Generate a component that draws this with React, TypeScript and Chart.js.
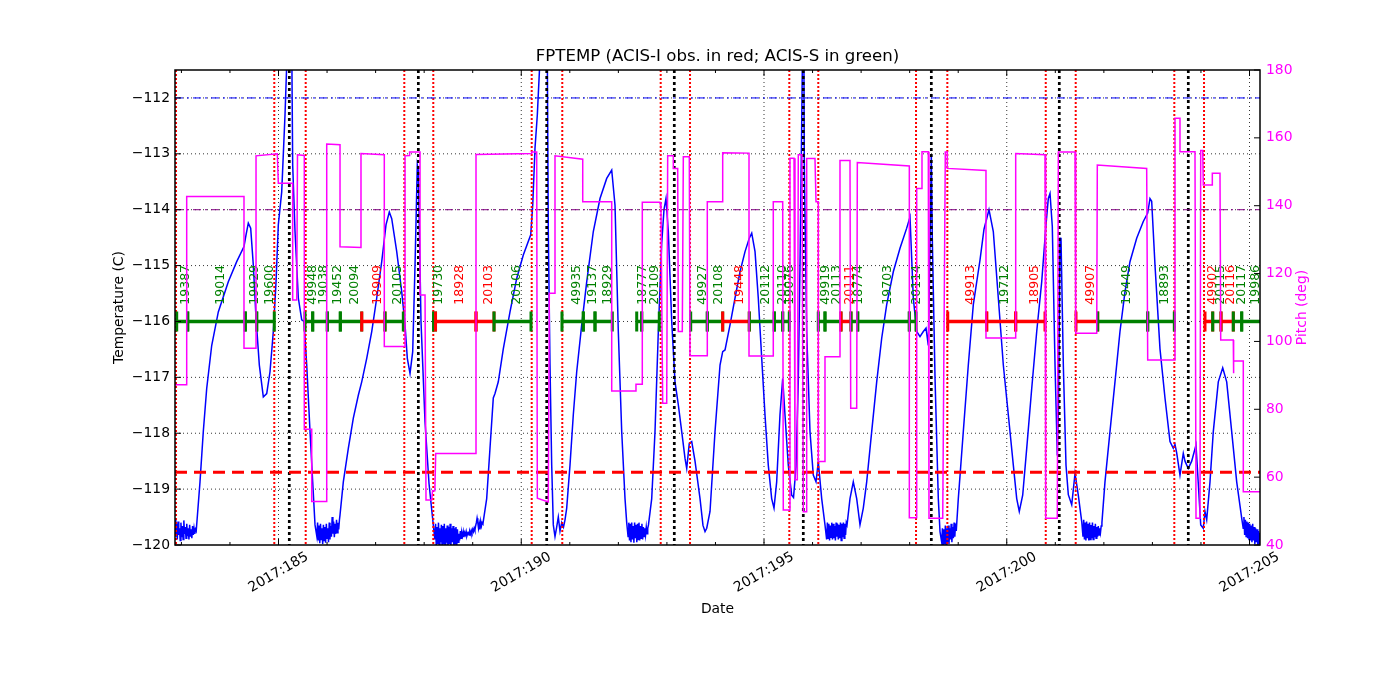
import React, { useEffect, useRef } from "react";
import { Chart, registerables } from "chart.js";

Chart.register(...registerables);

// ---------------- text ----------------
const TITLE = "FPTEMP (ACIS-I obs. in red; ACIS-S in green)";
const X_LABEL = "Date";
const Y_LABEL = "Temperature (C)";
const Y2_LABEL = "Pitch (deg)";
const YEAR = 2017;

// ---------------- axes ----------------
const DAY_MIN = 182.868;
const DAY_MAX = 205.216;
const DATE_MAJOR_TICKS = [185, 190, 195, 200, 205];
const DATE_MINOR_TICKS = [183, 184, 185, 186, 187, 188, 189, 190, 191, 192, 193, 194, 195, 196, 197, 198, 199, 200, 201, 202, 203, 204, 205];
const TEMP_MIN = -120;
const TEMP_MAX = -111.5;
const TEMP_TICKS = [-120, -119, -118, -117, -116, -115, -114, -113, -112];
const PITCH_MIN = 40;
const PITCH_MAX = 180;
const PITCH_TICKS = [40, 60, 80, 100, 120, 140, 160, 180];

// ---------------- reference levels ----------------
const PLANNING_LIMIT = -118.7;
const ACIS_I_LIMIT = -114.0;
const ACIS_S_LIMIT = -112.0;
const OBS_BAR_LEVEL = -116.0;
const OBS_LABEL_LEVEL = -115.7;

// ---------------- events (day of year) ----------------
const RAD_ZONE_DAYS = [182.889, 184.913, 185.56, 187.591, 188.188, 190.215, 190.845, 192.872, 193.476, 195.521, 196.118, 198.131, 198.776, 200.803, 201.42, 203.451, 204.063];
const PERIGEE_DAYS = [185.222, 187.88, 190.524, 193.152, 195.809, 198.446, 201.082, 203.739];

// ---------------- observations ----------------
const OBS_IDS = [19387, 19014, 19929, 19600, 49948, 19038, 19452, 20094, 18909, 20105, 19730, 18928, 20103, 20106, 49935, 19137, 18929, 18777, 20109, 49927, 20108, 19448, 20112, 20110, 19076, 49919, 20113, 20111, 18774, 19703, 20114, 49913, 19712, 18905, 49907, 19449, 18893, 49902, 20115, 20116, 20117, 19986];
const OBS_START = [182.903, 183.13, 184.316, 184.551, 185.546, 185.704, 186.005, 186.273, 186.714, 187.194, 188.193, 188.234, 189.068, 189.439, 190.839, 191.278, 191.519, 192.378, 192.481, 193.49, 193.832, 194.149, 194.697, 195.212, 195.385, 196.118, 196.256, 196.586, 196.792, 196.93, 197.993, 198.784, 199.587, 200.184, 201.426, 201.873, 202.903, 204.083, 204.242, 204.413, 204.666, 204.839];
const OBS_STOP = [183.13, 184.316, 184.551, 184.913, 185.704, 186.005, 186.273, 186.714, 187.194, 187.571, 188.234, 189.068, 189.439, 190.201, 191.278, 191.519, 191.875, 192.481, 192.843, 193.832, 194.149, 194.697, 195.212, 195.385, 195.521, 196.256, 196.586, 196.792, 196.93, 197.993, 198.131, 199.587, 200.184, 200.788, 201.873, 202.903, 203.451, 204.242, 204.413, 204.666, 204.839, 205.26];
const OBS_INST = ["S", "S", "S", "S", "S", "S", "S", "S", "I", "S", "S", "I", "I", "S", "S", "S", "S", "S", "S", "S", "S", "I", "S", "S", "S", "S", "S", "I", "S", "S", "S", "I", "S", "I", "I", "S", "S", "I", "S", "I", "S", "S"];
const OBS_BAR_INST = ["S", "S", "S", "S", "S", "S", "S", "S", "I", "S", "S", "I", "I", "S", "S", "S", "S", "S", "S", "S", "S", "I", "S", "S", "S", "S", "S", "I", "S", "S", "S", "I", "I", "I", "I", "S", "S", "I", "S", "I", "S", "S"];

// ---------------- FPTEMP (day, degC) ----------------
const FPTEMP: [number, number][] = [
  [182.87, -119.55], [182.885, -119.85], [182.9, -119.62], [182.915, -119.9], [182.93, -119.58], [182.945, -119.82], [182.96, -119.7], [182.975, -119.92], [182.99, -119.6], [183.005, -119.86], [183.02, -119.66], [183.035, -119.9], [183.05, -119.56], [183.065, -119.8], [183.08, -119.68], [183.095, -119.88], [183.11, -119.62], [183.125, -119.84], [183.14, -119.7], [183.155, -119.9], [183.17, -119.64], [183.185, -119.85], [183.2, -119.72], [183.215, -119.88], [183.23, -119.66], [183.245, -119.82], [183.26, -119.7], [183.275, -119.8], [183.29, -119.72], [183.305, -119.75],
  [183.383, -118.87], [183.451, -117.97], [183.521, -117.2], [183.624, -116.43], [183.76, -115.83], [183.966, -115.29], [184.139, -114.93], [184.289, -114.66], [184.331, -114.45], [184.378, -114.24], [184.427, -114.33], [184.481, -114.99], [184.537, -115.94], [184.605, -116.78], [184.687, -117.35], [184.757, -117.29], [184.825, -116.9], [184.893, -116.18], [184.949, -115.29], [184.996, -114.27], [185.066, -113.68], [185.134, -112.3], [185.185, -111.0], [185.235, -110.6], [185.275, -111.3], [185.292, -113.2], [185.34, -114.39], [185.408, -115.58], [185.478, -115.97], [185.525, -116.0], [185.581, -116.78], [185.649, -117.97], [185.704, -118.87], [185.752, -119.64],
  [185.79, -119.85], [185.805, -119.6], [185.82, -119.92], [185.835, -119.65], [185.85, -119.97], [185.865, -119.62], [185.88, -119.9], [185.895, -119.7], [185.91, -119.98], [185.925, -119.64], [185.94, -119.92], [185.955, -119.68], [185.97, -119.96], [185.985, -119.62], [186.0, -119.88], [186.015, -119.7], [186.03, -119.95], [186.045, -119.6], [186.06, -119.9], [186.075, -119.66], [186.09, -119.85], [186.105, -119.5], [186.12, -119.8], [186.135, -119.58], [186.15, -119.86], [186.165, -119.62], [186.18, -119.8], [186.195, -119.55], [186.21, -119.78], [186.225, -119.6], [186.24, -119.72], [186.255, -119.55],
  [186.267, -119.46], [186.335, -118.87], [186.438, -118.27], [186.541, -117.73], [186.644, -117.32], [186.714, -117.08], [186.817, -116.66], [186.92, -116.18], [187.023, -115.58], [187.126, -114.93], [187.214, -114.27], [187.282, -114.04], [187.332, -114.16], [187.435, -114.75], [187.538, -115.47], [187.606, -116.06], [187.653, -116.66], [187.709, -116.93], [187.764, -116.54], [187.812, -114.99], [187.859, -113.2], [187.88, -113.3], [187.935, -116.0], [188.018, -117.8], [188.1, -118.9], [188.188, -119.64],
  [188.22, -119.9], [188.235, -119.62], [188.25, -120.05], [188.265, -119.68], [188.28, -119.98], [188.295, -119.6], [188.31, -120.05], [188.325, -119.7], [188.34, -119.95], [188.355, -119.64], [188.37, -120.05], [188.385, -119.66], [188.4, -119.98], [188.415, -119.62], [188.43, -120.05], [188.445, -119.7], [188.46, -119.96], [188.475, -119.65], [188.49, -120.05], [188.505, -119.68], [188.52, -119.98], [188.535, -119.62], [188.55, -120.05], [188.565, -119.7], [188.58, -119.95], [188.595, -119.66], [188.61, -120.05], [188.625, -119.7], [188.64, -119.98], [188.655, -119.68], [188.67, -120.05], [188.685, -119.72], [188.7, -119.95],
  [188.715, -119.8], [188.73, -119.92], [188.745, -119.75], [188.76, -119.88], [188.775, -119.78], [188.79, -119.84], [188.805, -119.76], [188.82, -119.86], [188.835, -119.78], [188.85, -119.82], [188.865, -119.76], [188.88, -119.84], [188.895, -119.8], [188.91, -119.78], [188.925, -119.82], [188.94, -119.76], [188.955, -119.8], [188.97, -119.74], [188.985, -119.78], [189.0, -119.72], [189.015, -119.76], [189.03, -119.7], [189.045, -119.74], [189.06, -119.66], [189.075, -119.6], [189.09, -119.52], [189.105, -119.6], [189.12, -119.7], [189.135, -119.62], [189.15, -119.72], [189.165, -119.58], [189.18, -119.66], [189.195, -119.6], [189.21, -119.62],
  [189.288, -119.17], [189.356, -118.27], [189.424, -117.37], [189.459, -117.29], [189.527, -117.08], [189.63, -116.49], [189.768, -115.83], [189.906, -115.23], [190.042, -114.81], [190.195, -114.45], [190.236, -113.92], [190.283, -112.9], [190.331, -112.3], [190.386, -111.3], [190.469, -110.8], [190.537, -111.3], [190.557, -114.39], [190.592, -116.78], [190.627, -118.57], [190.66, -119.64], [190.695, -119.85], [190.726, -119.7], [190.763, -119.5], [190.798, -119.75], [190.833, -119.6], [190.87, -119.68], [190.901, -119.55], [190.936, -119.34], [191.004, -118.57], [191.072, -117.67], [191.142, -116.9], [191.245, -116.06], [191.348, -115.29], [191.484, -114.39], [191.622, -113.8], [191.76, -113.44], [191.863, -113.29], [191.931, -113.92], [191.999, -116.18], [192.069, -117.97], [192.137, -119.17], [192.172, -119.6],
  [192.2, -119.85], [192.215, -119.6], [192.23, -119.92], [192.245, -119.62], [192.26, -119.95], [192.275, -119.6], [192.29, -119.9], [192.305, -119.66], [192.32, -119.96], [192.335, -119.6], [192.35, -119.88], [192.365, -119.64], [192.38, -119.95], [192.395, -119.62], [192.41, -119.9], [192.425, -119.6], [192.44, -119.92], [192.455, -119.66], [192.47, -119.88], [192.485, -119.62], [192.5, -119.9], [192.515, -119.68], [192.53, -119.85], [192.545, -119.7], [192.56, -119.82], [192.575, -119.68], [192.59, -119.8], [192.605, -119.7], [192.62, -119.64],
  [192.687, -119.17], [192.755, -117.97], [192.823, -116.18], [192.893, -114.6], [192.94, -114.0], [192.981, -113.8], [193.029, -114.39], [193.099, -116.0], [193.167, -117.08], [193.235, -117.49], [193.305, -117.97], [193.373, -118.45], [193.408, -118.63], [193.461, -118.18], [193.511, -118.15], [193.579, -118.5], [193.682, -119.17], [193.743, -119.65], [193.785, -119.76], [193.82, -119.7], [193.888, -119.4], [193.991, -117.97], [194.094, -116.78], [194.149, -116.54], [194.197, -116.51], [194.3, -116.06], [194.403, -115.58], [194.506, -115.11], [194.609, -114.75], [194.697, -114.51], [194.747, -114.42], [194.815, -114.75], [194.882, -115.58], [194.953, -116.66], [195.02, -117.67], [195.088, -118.57], [195.158, -119.17], [195.206, -119.34], [195.261, -118.87], [195.329, -117.67], [195.385, -117.02], [195.432, -117.67], [195.5, -118.57], [195.57, -119.11], [195.608, -119.15], [195.659, -118.6], [195.706, -117.08], [195.741, -115.0], [195.776, -112.5], [195.797, -110.8], [195.82, -110.8], [195.83, -113.2], [195.879, -116.18], [195.947, -117.97], [196.015, -118.75], [196.071, -118.87], [196.118, -118.51], [196.188, -119.17], [196.256, -119.64],
  [196.29, -119.9], [196.305, -119.6], [196.32, -119.88], [196.335, -119.62], [196.35, -119.92], [196.365, -119.65], [196.38, -119.86], [196.395, -119.6], [196.41, -119.9], [196.425, -119.62], [196.44, -119.88], [196.455, -119.66], [196.47, -119.92], [196.485, -119.6], [196.5, -119.85], [196.515, -119.62], [196.53, -119.9], [196.545, -119.64], [196.56, -119.88], [196.575, -119.6], [196.59, -119.92], [196.605, -119.62], [196.62, -119.86], [196.635, -119.6], [196.65, -119.88], [196.665, -119.62], [196.68, -119.82], [196.695, -119.6], [196.71, -119.64],
  [196.771, -119.17], [196.839, -118.87], [196.909, -119.17], [196.977, -119.64], [197.045, -119.34], [197.115, -118.87], [197.218, -117.97], [197.321, -117.08], [197.424, -116.3], [197.527, -115.7], [197.663, -115.11], [197.801, -114.69], [197.939, -114.33], [198.007, -114.13], [198.075, -115.58], [198.145, -116.18], [198.213, -116.27], [198.281, -116.18], [198.337, -116.12], [198.384, -116.43], [198.413, -115.0], [198.446, -113.02], [198.466, -114.5], [198.522, -117.0], [198.59, -119.17], [198.625, -119.76],
  [198.66, -119.95], [198.675, -119.7], [198.69, -120.05], [198.705, -119.72], [198.72, -119.98], [198.735, -119.65], [198.75, -120.05], [198.765, -119.7], [198.78, -119.95], [198.795, -119.65], [198.81, -119.98], [198.825, -119.7], [198.84, -119.9], [198.855, -119.62], [198.87, -119.95], [198.885, -119.68], [198.9, -119.88], [198.915, -119.6], [198.93, -119.85], [198.945, -119.62], [198.96, -119.75],
  [199.002, -119.17], [199.105, -117.97], [199.208, -116.78], [199.311, -115.7], [199.449, -114.9], [199.531, -114.35], [199.634, -114.0], [199.723, -114.39], [199.826, -115.58], [199.929, -116.78], [200.032, -117.67], [200.135, -118.57], [200.205, -119.17], [200.258, -119.4], [200.328, -119.11], [200.411, -118.27], [200.514, -117.2], [200.617, -116.18], [200.72, -115.29], [200.808, -114.27], [200.856, -113.8], [200.891, -113.71], [200.938, -114.3], [200.994, -116.78], [201.041, -118.4], [201.066, -117.5], [201.097, -114.51], [201.117, -114.5], [201.165, -116.78], [201.22, -118.57], [201.268, -119.1], [201.338, -119.28], [201.406, -118.72], [201.474, -119.11], [201.544, -119.58],
  [201.57, -119.85], [201.585, -119.55], [201.6, -119.9], [201.615, -119.6], [201.63, -119.92], [201.645, -119.58], [201.66, -119.88], [201.675, -119.62], [201.69, -119.92], [201.705, -119.6], [201.72, -119.9], [201.735, -119.64], [201.75, -119.88], [201.765, -119.6], [201.78, -119.9], [201.795, -119.66], [201.81, -119.86], [201.825, -119.62], [201.84, -119.88], [201.855, -119.68], [201.87, -119.85], [201.885, -119.66], [201.9, -119.82], [201.915, -119.7], [201.93, -119.78], [201.945, -119.66], [201.96, -119.6],
  [202.023, -118.87], [202.126, -117.97], [202.229, -117.08], [202.332, -116.18], [202.435, -115.47], [202.538, -114.93], [202.676, -114.51], [202.812, -114.21], [202.903, -114.06], [202.95, -113.8], [202.985, -113.85], [203.053, -114.99], [203.156, -116.49], [203.259, -117.37], [203.362, -118.15], [203.43, -118.27], [203.465, -118.2], [203.5, -118.35], [203.568, -118.75], [203.636, -118.36], [203.671, -118.5], [203.739, -118.63], [203.809, -118.5], [203.898, -118.21], [203.945, -118.9], [203.995, -119.64], [204.048, -119.7], [204.083, -119.4], [204.118, -119.55], [204.186, -118.87], [204.254, -117.97], [204.357, -117.08], [204.448, -116.83], [204.53, -117.08], [204.633, -117.97], [204.736, -118.87], [204.839, -119.52],
  [204.87, -119.7], [204.885, -119.5], [204.9, -119.82], [204.915, -119.55], [204.93, -119.85], [204.945, -119.58], [204.96, -119.88], [204.975, -119.6], [204.99, -119.9], [205.005, -119.62], [205.02, -119.92], [205.035, -119.65], [205.05, -119.95], [205.065, -119.62], [205.08, -119.92], [205.095, -119.68], [205.11, -119.98], [205.125, -119.7], [205.14, -119.95], [205.155, -119.72], [205.17, -120.0], [205.185, -119.75], [205.2, -119.98], [205.215, -119.78], [205.23, -119.92],
];

// ---------------- pitch (day, deg) ----------------
const PITCH: [number, number][] = [
  [182.87, 87.2], [183.109, 87.2], [183.109, 142.7], [184.289, 142.7], [184.289, 98.0], [184.537, 98.0], [184.537, 154.7], [184.975, 155.3], [184.996, 146.6], [185.292, 146.6], [185.292, 112.2], [185.375, 112.2], [185.391, 155.0], [185.531, 154.8], [185.531, 74.1], [185.684, 74.1], [185.684, 52.8], [185.993, 52.8], [185.993, 158.2], [186.267, 158.0], [186.267, 127.9], [186.699, 127.7], [186.699, 155.4], [187.179, 155.0], [187.179, 98.5], [187.606, 98.5], [187.606, 154.7], [187.7, 154.8], [187.7, 155.8], [187.915, 155.8], [187.915, 113.7], [188.018, 113.7], [188.038, 53.3], [188.156, 53.3], [188.172, 56.0], [188.22, 56.0], [188.238, 67.0], [189.068, 67.0], [189.068, 155.1], [190.215, 155.4], [190.215, 155.8], [190.318, 155.8], [190.331, 53.8], [190.557, 52.7], [190.578, 114.2], [190.695, 114.2], [190.695, 154.7], [191.266, 153.7], [191.266, 141.2], [191.863, 141.2], [191.863, 85.4], [192.363, 85.4], [192.363, 87.4], [192.493, 87.4], [192.493, 141.0], [192.858, 141.0], [192.878, 139.0], [192.913, 81.8], [192.996, 81.8], [193.016, 154.7], [193.132, 154.7], [193.132, 151.0], [193.222, 151.0], [193.235, 102.9], [193.317, 102.9], [193.338, 154.4], [193.461, 154.4], [193.476, 95.8], [193.832, 95.8], [193.832, 141.2], [194.149, 141.2], [194.149, 155.6], [194.691, 155.5], [194.691, 95.7], [195.191, 95.7], [195.191, 141.2], [195.385, 141.2], [195.397, 50.3], [195.521, 50.3], [195.535, 154.0], [195.618, 154.0], [195.638, 59.2], [195.686, 59.2], [195.706, 155.0], [195.782, 155.0], [195.809, 49.8], [195.865, 49.8], [195.879, 153.9], [196.05, 153.9], [196.071, 141.2], [196.118, 141.2], [196.118, 64.6], [196.256, 64.6], [196.256, 95.5], [196.565, 95.5], [196.565, 153.3], [196.771, 153.3], [196.786, 80.3], [196.909, 80.3], [196.922, 152.7], [197.993, 151.7], [197.993, 48.0], [198.131, 48.0], [198.145, 145.1], [198.248, 145.1], [198.254, 155.9], [198.384, 155.9], [198.398, 47.9], [198.681, 47.9], [198.734, 155.8], [198.775, 155.8], [198.775, 151.0], [199.572, 150.4], [199.572, 101.0], [200.184, 101.0], [200.184, 155.4], [200.788, 155.0], [200.802, 47.9], [201.041, 47.9], [201.062, 155.8], [201.406, 155.8], [201.42, 102.4], [201.853, 102.4], [201.865, 152.0], [202.882, 151.0], [202.903, 94.5], [203.451, 94.5], [203.465, 165.8], [203.568, 165.8], [203.568, 155.9], [203.877, 155.9], [203.898, 47.9], [203.98, 47.9], [203.995, 156.3], [204.036, 156.3], [204.048, 146.1], [204.234, 146.1], [204.234, 149.6], [204.392, 149.6], [204.407, 100.4], [204.666, 100.4], [204.666, 90.6], [204.672, 90.6], [204.68, 94.2], [204.872, 94.2], [204.872, 55.7], [205.22, 55.7],
];

// ---------------- colours ----------------
const BLUE = "#0000ff";
const MAGENTA = "#ff00ff";
const RED = "#ff0000";
const GREEN = "#008000";
const PURPLE = "#800080";
const FONT = '"DejaVu Sans", "Liberation Sans", sans-serif';
const TEMP_INDEX = 4;

const instColor = (inst: string) => (inst === "I" ? RED : GREEN);
const fmtTemp = (v: number) => (v < 0 ? "\u2212" : "") + String(Math.abs(v));

const overlayPlugin = {
  id: "fptempOverlay",
  beforeDatasetsDraw(chart: any) {
    const { ctx, chartArea: a } = chart;
    const xs = chart.scales.x;
    const ys = chart.scales.y;
    ctx.save();
    ctx.strokeStyle = "#000";
    ctx.lineWidth = 0.8;
    ctx.setLineDash([1, 3]);
    ctx.beginPath();
    for (const v of TEMP_TICKS) {
      if (v <= TEMP_MIN) continue;
      const py = ys.getPixelForValue(v);
      ctx.moveTo(a.left, py);
      ctx.lineTo(a.right, py);
    }
    for (const d of DATE_MAJOR_TICKS) {
      const px = xs.getPixelForValue(d);
      if (px >= a.right - 0.5 || px <= a.left + 0.5) continue;
      ctx.moveTo(px, a.top);
      ctx.lineTo(px, a.bottom);
    }
    ctx.stroke();
    ctx.restore();
  },
  afterDatasetDraw(chart: any, args: any) {
    if (args.index !== TEMP_INDEX) return;
    const { ctx, chartArea: a } = chart;
    const xs = chart.scales.x;
    const ys = chart.scales.y;
    ctx.save();
    ctx.beginPath();
    ctx.rect(a.left, a.top, a.right - a.left, a.bottom - a.top);
    ctx.clip();

    ctx.strokeStyle = RED;
    ctx.lineWidth = 2;
    ctx.setLineDash([2, 2]);
    ctx.beginPath();
    for (const d of RAD_ZONE_DAYS) {
      const px = xs.getPixelForValue(d);
      ctx.moveTo(px, a.top);
      ctx.lineTo(px, a.bottom);
    }
    ctx.stroke();

    ctx.strokeStyle = "#000";
    ctx.lineWidth = 2.7;
    ctx.setLineDash([3, 3]);
    ctx.beginPath();
    for (const d of PERIGEE_DAYS) {
      const px = xs.getPixelForValue(d);
      ctx.moveTo(px, a.top);
      ctx.lineTo(px, a.bottom);
    }
    ctx.stroke();

    ctx.setLineDash([]);
    const yb = ys.getPixelForValue(OBS_BAR_LEVEL);
    OBS_IDS.forEach((_id, i) => {
      const x0 = xs.getPixelForValue(OBS_START[i]);
      const x1 = xs.getPixelForValue(OBS_STOP[i]);
      ctx.strokeStyle = instColor(OBS_BAR_INST[i]);
      ctx.lineWidth = 3.5;
      ctx.beginPath();
      ctx.moveTo(x0, yb);
      ctx.lineTo(x1, yb);
      ctx.stroke();
      ctx.lineWidth = 3;
      ctx.beginPath();
      ctx.moveTo(x0, yb - 10);
      ctx.lineTo(x0, yb + 10);
      ctx.moveTo(x1, yb - 10);
      ctx.lineTo(x1, yb + 10);
      ctx.stroke();
    });
    ctx.restore();

    ctx.save();
    ctx.font = `12.5px ${FONT}`;
    ctx.textAlign = "left";
    ctx.textBaseline = "middle";
    const yl = ys.getPixelForValue(OBS_LABEL_LEVEL);
    OBS_IDS.forEach((id, i) => {
      const mid = (OBS_START[i] + OBS_STOP[i]) / 2;
      const px = xs.getPixelForValue(mid) + 4;
      ctx.save();
      ctx.translate(px, yl);
      ctx.rotate(-Math.PI / 2);
      ctx.fillStyle = instColor(OBS_INST[i]);
      ctx.fillText(String(id), 0, 0);
      ctx.restore();
    });
    ctx.restore();
  },
  afterDraw(chart: any) {
    const { ctx, chartArea: a } = chart;
    const xs = chart.scales.x;
    const ys = chart.scales.y;
    const y2 = chart.scales.y1;
    ctx.save();
    ctx.setLineDash([]);
    ctx.strokeStyle = "#000";
    ctx.lineWidth = 1;
    ctx.beginPath();
    for (const v of TEMP_TICKS) {
      const py = ys.getPixelForValue(v);
      ctx.moveTo(a.left, py);
      ctx.lineTo(a.left + 6, py);
    }
    for (const v of PITCH_TICKS) {
      const py = y2.getPixelForValue(v);
      ctx.moveTo(a.right, py);
      ctx.lineTo(a.right - 6, py);
    }
    for (const d of DATE_MINOR_TICKS) {
      const px = xs.getPixelForValue(d);
      const len = DATE_MAJOR_TICKS.includes(d) ? 6 : 3;
      ctx.moveTo(px, a.bottom);
      ctx.lineTo(px, a.bottom - len);
      ctx.moveTo(px, a.top);
      ctx.lineTo(px, a.top + len);
    }
    ctx.stroke();
    ctx.lineWidth = 1.5;
    ctx.strokeRect(a.left, a.top, a.right - a.left, a.bottom - a.top);

    ctx.font = `13.9px ${FONT}`;
    ctx.textBaseline = "middle";
    ctx.fillStyle = "#000";
    ctx.textAlign = "right";
    for (const v of TEMP_TICKS) ctx.fillText(fmtTemp(v), a.left - 5, ys.getPixelForValue(v));
    ctx.fillStyle = MAGENTA;
    ctx.textAlign = "left";
    for (const v of PITCH_TICKS) ctx.fillText(String(v), a.right + 6, y2.getPixelForValue(v));
    ctx.fillStyle = "#000";
    ctx.textAlign = "center";
    for (const d of DATE_MAJOR_TICKS) {
      ctx.save();
      ctx.translate(xs.getPixelForValue(d), a.bottom + 27.5);
      ctx.rotate(-Math.PI / 6);
      ctx.fillText(`${YEAR}:${d}`, 0, 0);
      ctx.restore();
    }

    const midY = (a.top + a.bottom) / 2;
    const midX = (a.left + a.right) / 2;
    ctx.fillText(X_LABEL, midX, a.bottom + 64.5);
    ctx.save();
    ctx.translate(a.left - 55.5, midY);
    ctx.rotate(-Math.PI / 2);
    ctx.fillText(Y_LABEL, 0, 0);
    ctx.restore();
    ctx.save();
    ctx.fillStyle = MAGENTA;
    ctx.translate(a.right + 42.5, midY);
    ctx.rotate(-Math.PI / 2);
    ctx.fillText(Y2_LABEL, 0, 0);
    ctx.restore();

    ctx.font = `16.6px ${FONT}`;
    ctx.fillStyle = "#000";
    ctx.fillText(TITLE, midX, a.top - 13);
    ctx.restore();
  },
};

const hline = (level: number) => [
  { x: DAY_MIN, y: level },
  { x: DAY_MAX, y: level },
];

export default function App() {
  const canvasRef = useRef<HTMLCanvasElement | null>(null);

  useEffect(() => {
    const canvas = canvasRef.current;
    if (!canvas) return;
    const chart = new Chart(canvas, {
      type: "line",
      data: {
        datasets: [
          {
            label: "Pitch",
            data: PITCH.map(([x, y]) => ({ x, y })),
            yAxisID: "y1",
            borderColor: MAGENTA,
            borderWidth: 1.5,
            pointRadius: 0,
            tension: 0,
            clip: 0,
          },
          {
            label: "Planning limit",
            data: hline(PLANNING_LIMIT),
            yAxisID: "y",
            borderColor: RED,
            borderWidth: 3,
            borderDash: [12, 7],
            pointRadius: 0,
            clip: 0,
          },
          {
            label: "ACIS-I limit",
            data: hline(ACIS_I_LIMIT),
            yAxisID: "y",
            borderColor: PURPLE,
            borderWidth: 1,
            borderDash: [8, 4, 2, 4],
            pointRadius: 0,
            clip: 0,
          },
          {
            label: "ACIS-S limit",
            data: hline(ACIS_S_LIMIT),
            yAxisID: "y",
            borderColor: BLUE,
            borderWidth: 1,
            borderDash: [8, 4, 2, 4],
            pointRadius: 0,
            clip: 0,
          },
          {
            label: "FPTEMP",
            data: FPTEMP.map(([x, y]) => ({ x, y })),
            yAxisID: "y",
            borderColor: BLUE,
            borderWidth: 1.5,
            pointRadius: 0,
            tension: 0,
            clip: 0,
          },
        ],
      },
      options: {
        animation: false,
        responsive: false,
        devicePixelRatio: 1,
        events: [],
        layout: { padding: { top: 70, left: 0, right: 0, bottom: 0 } },
        plugins: { legend: { display: false }, tooltip: { enabled: false }, title: { display: false } },
        scales: {
          x: {
            type: "linear",
            min: DAY_MIN,
            max: DAY_MAX,
            ticks: { display: false },
            grid: { display: false },
            border: { display: false },
            afterFit: (s: any) => {
              s.height = 155;
            },
          },
          y: {
            type: "linear",
            position: "left",
            min: TEMP_MIN,
            max: TEMP_MAX,
            ticks: { display: false },
            grid: { display: false },
            border: { display: false },
            afterFit: (s: any) => {
              s.width = 175;
            },
          },
          y1: {
            type: "linear",
            position: "right",
            min: PITCH_MIN,
            max: PITCH_MAX,
            ticks: { display: false },
            grid: { display: false },
            border: { display: false },
            afterFit: (s: any) => {
              s.width = 140;
            },
          },
        },
      },
      plugins: [overlayPlugin],
    } as any);
    return () => chart.destroy();
  }, []);

  return (
    <div style={{ position: "fixed", left: 0, top: 0, width: 1400, height: 700, background: "#fff" }}>
      <canvas ref={canvasRef} width={1400} height={700} style={{ display: "block", width: 1400, height: 700 }} />
    </div>
  );
}
